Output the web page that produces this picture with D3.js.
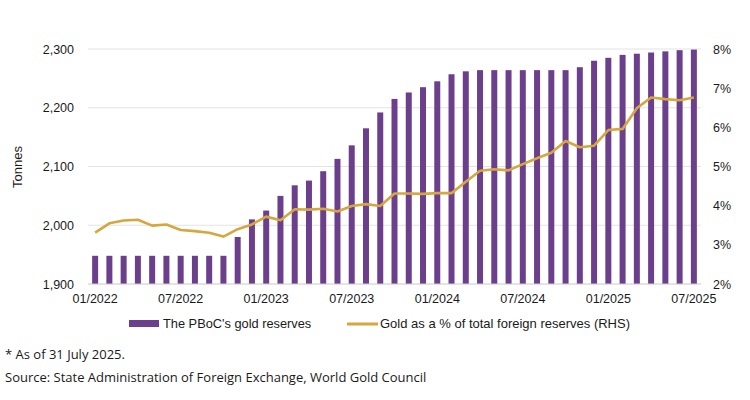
<!DOCTYPE html>
<html><head><meta charset="utf-8">
<script src="https://cdn.jsdelivr.net/npm/d3@7"></script>
<style>body{margin:0;background:#fff}svg{display:block}</style>
</head><body>
<svg id="c" width="750" height="400"></svg>
<script>
const months = ["01/2022","02/2022","03/2022","04/2022","05/2022","06/2022","07/2022","08/2022","09/2022","10/2022","11/2022","12/2022",
"01/2023","02/2023","03/2023","04/2023","05/2023","06/2023","07/2023","08/2023","09/2023","10/2023","11/2023","12/2023",
"01/2024","02/2024","03/2024","04/2024","05/2024","06/2024","07/2024","08/2024","09/2024","10/2024","11/2024","12/2024",
"01/2025","02/2025","03/2025","04/2025","05/2025","06/2025","07/2025"];
const goldTonnes = [1948,1948,1948,1948,1948,1948,1948,1948,1948,1948,1980,2010,
2025,2050,2068,2076,2092,2113,2136,2165,2192,2215,2226,2235,
2245,2257,2262,2264,2264,2264,2264,2264,2264,2264,2269,2280,
2285,2290,2292,2294,2296,2298,2299];
const goldPct = [3.31,3.55,3.62,3.64,3.49,3.52,3.38,3.35,3.31,3.21,3.40,3.52,
3.72,3.63,3.91,3.90,3.92,3.85,3.99,4.04,3.99,4.31,4.31,4.30,
4.32,4.32,4.61,4.89,4.93,4.90,5.06,5.21,5.35,5.65,5.49,5.53,
5.93,5.96,6.49,6.76,6.72,6.69,6.76];
const leftTicks = [1900,2000,2100,2200,2300];
const rightTicks = [2,3,4,5,6,7,8];
const xTickLabels = ["01/2022","07/2022","01/2023","07/2023","01/2024","07/2024","01/2025","07/2025"];
const legendLabels = ["The PBoC's gold reserves","Gold as a % of total foreign reserves (RHS)"];
const notes = ["* As of 31 July 2025.","Source: State Administration of Foreign Exchange, World Gold Council"];

const PURPLE = "#6b3f8c", GOLD = "#d6a63f";
const svg = d3.select("#c");
const x = d3.scaleBand().domain(months).range([88,701]).paddingInner(0.58).paddingOuter(0.29);
const yL = d3.scaleLinear().domain([1900,2300]).range([284,49]);
const yR = d3.scaleLinear().domain([2,8]).range([284,49]);
const af = "'Liberation Sans', Arial, sans-serif";

// gridlines
svg.append("g").selectAll("line").data(leftTicks.slice(1)).join("line")
  .attr("x1",88).attr("x2",701).attr("y1",d=>yL(d)).attr("y2",d=>yL(d))
  .attr("stroke","#e3e3e3").attr("stroke-width",1);

// bars
svg.append("g").selectAll("rect").data(months).join("rect")
  .attr("x",d=>x(d)).attr("width",x.bandwidth())
  .attr("y",(d,i)=>yL(goldTonnes[i])).attr("height",(d,i)=>yL(1900)-yL(goldTonnes[i]))
  .attr("fill",PURPLE);

// baseline
svg.append("line").attr("x1",88).attr("x2",701).attr("y1",yL(1900)).attr("y2",yL(1900))
  .attr("stroke","#c8c8c8").attr("stroke-width",1);

// line
const line = d3.line().x((d,i)=>x(months[i])+x.bandwidth()/2).y(d=>yR(d));
svg.append("path").datum(goldPct).attr("d",line).attr("fill","none")
  .attr("stroke",GOLD).attr("stroke-width",2.6).attr("stroke-linejoin","round");

// left axis
const gl = svg.append("g").attr("transform","translate(88,0)")
  .call(d3.axisLeft(yL).tickValues(leftTicks).tickFormat(d3.format(",")).tickSize(0).tickPadding(14));
gl.select(".domain").remove();
gl.selectAll("text").attr("font-family",af).attr("font-size","12.5px").attr("fill","#1a1a1a");

// right axis
const gr = svg.append("g").attr("transform","translate(701,0)")
  .call(d3.axisRight(yR).tickValues(rightTicks).tickFormat(d=>d+"%").tickSize(0).tickPadding(12));
gr.select(".domain").remove();
gr.selectAll("text").attr("font-family",af).attr("font-size","12.5px").attr("fill","#1a1a1a");

// bottom axis
const gb = svg.append("g").attr("transform","translate(0,284)")
  .call(d3.axisBottom(x).tickValues(xTickLabels).tickSize(0).tickPadding(10));
gb.select(".domain").remove();
gb.selectAll("text").attr("font-family",af).attr("font-size","12.5px").attr("fill","#1a1a1a");

// y title
svg.append("text").attr("transform","translate(22,167) rotate(-90)").attr("text-anchor","middle")
  .attr("font-family",af).attr("font-size","13px").attr("fill","#1a1a1a").text("Tonnes");

// legend
svg.append("rect").attr("x",129).attr("y",320).attr("width",30).attr("height",7).attr("fill",PURPLE);
svg.append("text").attr("x",163).attr("y",328).attr("font-family",af).attr("font-size","12.8px").attr("fill","#1a1a1a").text(legendLabels[0]);
svg.append("line").attr("x1",347).attr("x2",378).attr("y1",324).attr("y2",324).attr("stroke",GOLD).attr("stroke-width",3);
svg.append("text").attr("x",380).attr("y",328).attr("font-family",af).attr("font-size","13px").attr("fill","#1a1a1a").text(legendLabels[1]);

// notes
svg.selectAll("text.note").data(notes).join("text").attr("class","note")
  .attr("x",5).attr("y",(d,i)=>359+i*23)
  .attr("font-family","'Open Sans','Noto Sans',sans-serif").attr("font-size","13px").attr("fill","#1a1a1a")
  .text(d=>d);
</script>
</body></html>
